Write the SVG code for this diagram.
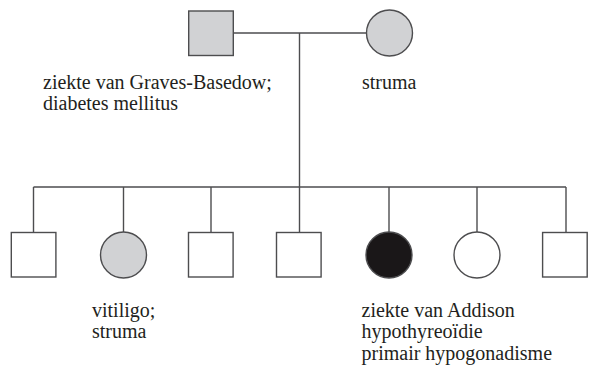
<svg xmlns="http://www.w3.org/2000/svg" width="594" height="366" viewBox="0 0 594 366">
<style>
.ln{stroke:#4d4d4f;stroke-width:1.4;fill:none}
.sym{stroke:#4d4d4f;stroke-width:1.4}
.aff{fill:#d1d2d4}
.un{fill:#ffffff}
.full{fill:#1a1718}
text{font-family:"Liberation Serif","Times New Roman",serif;font-size:20px;fill:#231f20}
</style>
<rect width="594" height="366" fill="#ffffff"/>
<g id="connectors">
<line class="ln" x1="233" y1="33" x2="367" y2="33"/>
<line class="ln" x1="299.5" y1="33" x2="299.5" y2="187"/>
<line class="ln" x1="33.5" y1="187" x2="566" y2="187"/>
<line class="ln" x1="33.5" y1="187" x2="33.5" y2="232.5"/>
<line class="ln" x1="123.5" y1="187" x2="123.5" y2="232"/>
<line class="ln" x1="211" y1="187" x2="211" y2="232.5"/>
<line class="ln" x1="299.5" y1="187" x2="299.5" y2="232.5"/>
<line class="ln" x1="389" y1="187" x2="389" y2="232"/>
<line class="ln" x1="477" y1="187" x2="477" y2="232"/>
<line class="ln" x1="566" y1="187" x2="566" y2="232.5"/>
</g>
<g id="father"><rect class="sym aff" x="188.7" y="11" width="44.6" height="44.5"/></g>
<g id="mother"><circle class="sym aff" cx="389.5" cy="33" r="23"/></g>
<g id="child1"><rect class="sym un" x="11.3" y="232.5" width="44.6" height="44.5"/></g>
<g id="child2"><circle class="sym aff" cx="123.5" cy="255" r="23"/></g>
<g id="child3"><rect class="sym un" x="188.5" y="232.5" width="44.6" height="44.5"/></g>
<g id="child4"><rect class="sym un" x="276.5" y="232.5" width="44.6" height="44.5"/></g>
<g id="child5"><circle class="sym full" cx="389" cy="255" r="23"/></g>
<g id="child6"><circle class="sym un" cx="477" cy="255" r="23"/></g>
<g id="child7"><rect class="sym un" x="542.6" y="232.5" width="44.6" height="44.5"/></g>
<g id="labels">
<text x="43" y="89">ziekte van Graves-Basedow;</text>
<text x="43" y="109.5">diabetes mellitus</text>
<text x="362" y="89">struma</text>
<text x="92" y="317">vitiligo;</text>
<text x="92" y="338">struma</text>
<text x="361.5" y="317">ziekte van Addison</text>
<text x="361.5" y="338">hypothyreoïdie</text>
<text x="361.5" y="359.5">primair hypogonadisme</text>
</g>
</svg>
